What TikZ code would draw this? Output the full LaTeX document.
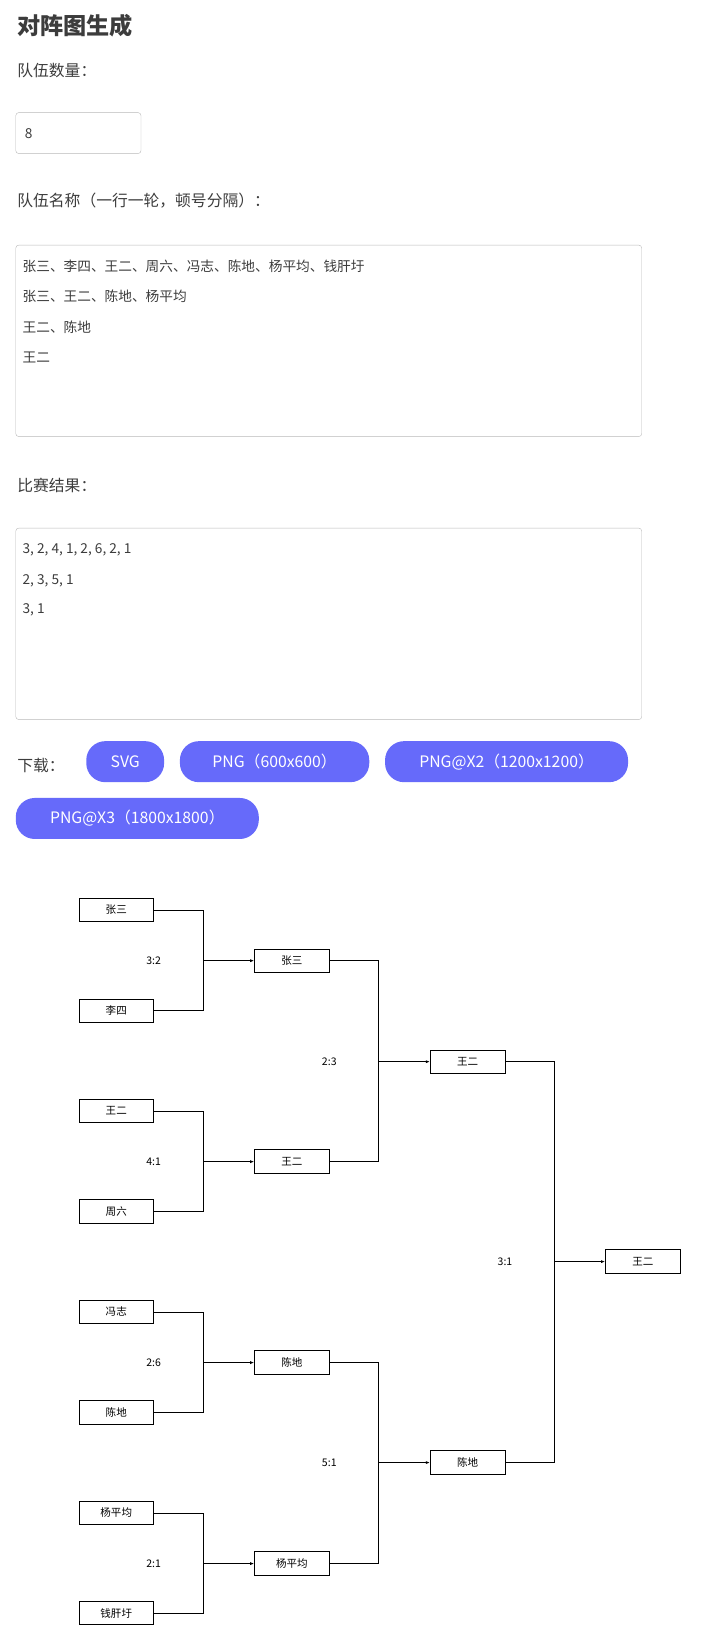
\documentclass[tikz,border=0pt]{standalone}
\usepackage{fontspec}
\setmainfont{Noto Sans CJK SC}
\usetikzlibrary{arrows.meta}
\definecolor{btnblue}{RGB}{102,106,250}
\definecolor{txtgray}{RGB}{60,60,60}
\definecolor{fieldline}{RGB}{185,185,185}
\begin{document}
\begin{tikzpicture}[x=1pt,y=-1pt,scale=1.052,every node/.style={transform shape},
    team/.style={draw,thick,minimum width=71pt,minimum height=22pt,inner sep=0pt,font=\fontsize{10}{12}\selectfont},
    score/.style={font=\fontsize{10}{12}\selectfont},
    link/.style={thick},
    win/.style={thick,-{Latex[length=4pt,width=3pt]}},
    lbl/.style={anchor=west,text=txtgray,font=\fontsize{15}{18}\selectfont},
    field/.style={draw=fieldline,rounded corners=3pt},
    row/.style={anchor=west,text=txtgray,font=\fontsize{13}{16}\selectfont},
    btn/.style={fill=btnblue,text=white,rounded corners=19pt,minimum height=39pt,inner sep=0pt,font=\fontsize{15}{18}\selectfont}
  ]
  \useasboundingbox (0,0) rectangle (690.1,1562.7);
  % form
  \node[anchor=west,text=txtgray,font=\bfseries\fontsize{22}{26}\selectfont] (title) at (13,24) {对阵图生成};
  \node[lbl] (lcount) at (13,67) {队伍数量：};
  \draw[field] (15,107) rectangle (134,146);
  \node[row] (count) at (20,127) {8};
  \node[lbl] (lnames) at (13,191) {队伍名称（一行一轮，顿号分隔）：};
  \draw[field] (15,233) rectangle (610,415);
  \node[row] (n1) at (18,253) {张三、李四、王二、周六、冯志、陈地、杨平均、钱肝圩};
  \node[row] (n2) at (18,282) {张三、王二、陈地、杨平均};
  \node[row] (n3) at (18,311) {王二、陈地};
  \node[row] (n4) at (18,340) {王二};
  \node[lbl] (lscore) at (13,461) {比赛结果：};
  \draw[field] (15,502) rectangle (610,684);
  \node[row] (s1) at (18,523) {3, 2, 4, 1, 2, 6, 2, 1};
  \node[row] (s2) at (18,552) {2, 3, 5, 1};
  \node[row] (s3) at (18,580) {3, 1};
  \node[lbl] (ldown) at (13,728) {下载：};
  \node[btn,minimum width=74pt] (svg) at (119,724) {SVG};
  \node[btn,minimum width=180pt] (png1) at (261,724) {PNG（600x600）};
  \node[btn,minimum width=231pt] (png2) at (481.5,724) {PNG@X2（1200x1200）};
  \node[btn,minimum width=231pt] (png3) at (130.5,778) {PNG@X3（1800x1800）};
  % round 1
  \foreach \name/\t [count=\i] in {a1/张三,a2/李四,a3/王二,a4/周六,a5/冯志,a6/陈地,a7/杨平均,a8/钱肝圩}
    \node[team] (\name) at (110.5,{865+95.5*(\i-1)}) {\t};
  % round 2
  \foreach \name/\t [count=\i] in {b1/张三,b2/王二,b3/陈地,b4/杨平均}
    \node[team] (\name) at (277.5,{913+191*(\i-1)}) {\t};
  % round 3
  \node[team] (c1) at (444.5,1009) {王二};
  \node[team] (c2) at (444.5,1390) {陈地};
  % final
  \node[team] (d1) at (611,1199) {王二};
  % connectors
  \foreach \p/\q/\w/\s in {a1/a2/b1/3:2,a3/a4/b2/4:1,a5/a6/b3/2:6,a7/a8/b4/2:1}{
    \draw[link] (\p.east) -| (193,0 |- \w.west);
    \draw[link] (\q.east) -| (193,0 |- \w.west);
    \draw[win] (193,0 |- \w.west) -- (\w.west);
    \node[score] at (146,0 |- \w.west) {\s};
  }
  \foreach \p/\q/\w/\s in {b1/b2/c1/2:3,b3/b4/c2/5:1}{
    \draw[link] (\p.east) -| (360,0 |- \w.west);
    \draw[link] (\q.east) -| (360,0 |- \w.west);
    \draw[win] (360,0 |- \w.west) -- (\w.west);
    \node[score] at (313,0 |- \w.west) {\s};
  }
  \draw[link] (c1.east) -| (527,0 |- d1.west);
  \draw[link] (c2.east) -| (527,0 |- d1.west);
  \draw[win] (527,0 |- d1.west) -- (d1.west);
  \node[score] at (480,0 |- d1.west) {3:1};
\end{tikzpicture}
\end{document}
